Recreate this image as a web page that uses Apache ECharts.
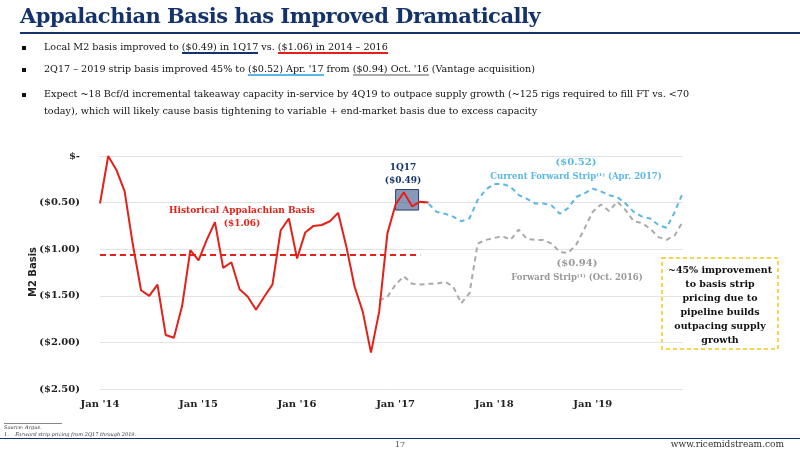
<!DOCTYPE html>
<html><head><meta charset="utf-8">
<script src="https://cdn.jsdelivr.net/npm/echarts@6/dist/echarts.min.js"></script>
<style>
body{margin:0;width:800px;height:450px;position:relative;background:#fff;font-family:"DejaVu Serif",serif;overflow:hidden}
#c{position:absolute;left:0;top:0;width:800px;height:450px}
.t{position:absolute;left:20px;top:3px;font-size:21px;font-weight:bold;color:#14336b;white-space:nowrap;letter-spacing:-0.5px}
.rule{position:absolute;left:20px;right:0;top:32px;height:2px;background:#14336b}
.b{position:absolute;left:22px;font-size:9.6px;color:#111;white-space:nowrap}
.b span.sq{display:inline-block;width:4px;height:4px;background:#111;margin-right:18px;vertical-align:middle}
.u1{border-bottom:2px solid #14336b}.u2{border-bottom:2px solid #e32119}.u3{border-bottom:2px solid #5bb8e6}.u4{border-bottom:2px solid #aaa}
.f{position:absolute;font-size:5px;font-style:italic;color:#333;left:4px}
</style></head><body>
<div id="c"></div>
<div class="t">Appalachian Basis has Improved Dramatically</div>
<div class="rule"></div>
<div class="b" style="top:41px"><span class="sq"></span>Local M2 basis improved to <span class="u1">($0.49) in 1Q17</span> vs. <span class="u2">($1.06) in 2014 – 2016</span></div>
<div class="b" style="top:63px"><span class="sq"></span>2Q17 – 2019 strip basis improved 45% to <span class="u3">($0.52) Apr. '17</span> from <span class="u4">($0.94) Oct. '16</span> (Vantage acquisition)</div>
<div class="b" style="top:85px;line-height:17px"><span class="sq"></span>Expect ~18 Bcf/d incremental takeaway capacity in-service by 4Q19 to outpace supply growth (~125 rigs required to fill FT vs. &lt;70<br><span style="margin-left:22px">today), which will likely cause basis tightening to variable + end-market basis due to excess capacity</span></div>
<div style="position:absolute;left:4px;top:423px;width:58px;border-top:1px solid #888"></div>
<div class="f" style="top:424px">Source: Argus.</div>
<div class="f" style="top:431px">1.&nbsp;&nbsp;&nbsp;&nbsp;Forward strip pricing from 2Q17 through 2019.</div>
<div style="position:absolute;left:0;right:0;top:438px;height:1px;background:#14336b"></div>
<div style="position:absolute;left:395px;top:440px;font-size:8px;color:#555">17</div>
<div style="position:absolute;right:16px;top:439px;font-size:9px;color:#333">www.ricemidstream.com</div>
<script>
const tickLabels = ["Jan '14","Jan '15","Jan '16","Jan '17","Jan '18","Jan '19"];
// monthly values, index 0 = Jan 2014
const historical = [-0.51,0,-0.15,-0.38,-0.95,-1.44,-1.50,-1.38,-1.92,-1.95,-1.61,-1.01,
 -1.12,-0.90,-0.71,-1.20,-1.14,-1.43,-1.51,-1.65,-1.51,-1.38,-0.80,-0.67,
 -1.10,-0.82,-0.75,-0.74,-0.70,-0.61,-0.97,-1.40,-1.67,-2.11,-1.67,-0.83,
 -0.52,-0.39,-0.54,-0.49,-0.50];
const currentStripStart = 39; // Apr 2017
const currentStrip = [-0.49,-0.51,-0.60,-0.62,-0.65,-0.70,-0.67,-0.47,-0.36,
 -0.30,-0.30,-0.33,-0.42,-0.46,-0.51,-0.51,-0.53,-0.62,-0.56,-0.44,-0.40,
 -0.35,-0.38,-0.42,-0.44,-0.51,-0.60,-0.65,-0.67,-0.74,-0.77,-0.60,-0.39];
const oldStripStart = 34; // Nov 2016
const oldStrip = [-1.55,-1.51,
 -1.38,-1.29,-1.37,-1.38,-1.37,-1.37,-1.35,-1.40,-1.58,-1.47,-0.94,-0.90,
 -0.88,-0.86,-0.90,-0.79,-0.89,-0.90,-0.90,-0.94,-1.03,-1.04,-0.95,-0.78,
 -0.60,-0.52,-0.59,-0.49,-0.58,-0.70,-0.72,-0.78,-0.87,-0.90,-0.85,-0.70];
const histAvg = -1.06;

const ch = echarts.init(document.getElementById('c'));
const fmtY = v => v === 0 ? '$-' : '($' + Math.abs(v).toFixed(2) + ')';
ch.setOption({
 animation:false,
 grid:{left:100,right:117,top:156,bottom:61},
 xAxis:{type:'value',min:0,max:71,interval:12,
  axisLine:{show:false},axisTick:{show:false},splitLine:{show:false},
  axisLabel:{formatter:v=>tickLabels[v/12]||'',fontFamily:'DejaVu Serif',fontWeight:'bold',fontSize:10,color:'#222',margin:10}},
 yAxis:{type:'value',min:-2.5,max:0,interval:0.5,
  axisLine:{show:false},axisTick:{show:false},
  splitLine:{lineStyle:{color:'#e3e3e3'}},
  axisLabel:{formatter:fmtY,fontFamily:'DejaVu Serif',fontWeight:'bold',fontSize:10,color:'#222',margin:20}},
 series:[
  {type:'line',data:oldStrip.map((v,i)=>[oldStripStart+i,v]),symbol:'none',
   lineStyle:{color:'#aaaaaa',width:2,type:[5,4]}},
  {type:'line',data:currentStrip.map((v,i)=>[currentStripStart+i,v]),symbol:'none',
   lineStyle:{color:'#5bb8e6',width:2,type:[5,4]}},
  {type:'line',data:historical.map((v,i)=>[i,v]),symbol:'none',z:5,
   lineStyle:{color:'#e32119',width:2},
   markLine:{symbol:'none',silent:true,label:{show:false},
    lineStyle:{color:'#e32119',width:2,type:[6,4]},
    data:[[{coord:[0,histAvg]},{coord:[39,histAvg]}]]},
   markArea:{silent:true,itemStyle:{color:'rgba(40,70,130,0.55)',borderColor:'#2d3f6b',borderWidth:1},
    data:[[{coord:[36,-0.36]},{coord:[38.8,-0.58]}]]}}
 ],
 graphic:[
  {type:'text',x:33,y:272,rotation:Math.PI/2,style:{text:'M2 Basis',align:'center',verticalAlign:'middle',fill:'#222',font:'bold 10px DejaVu Sans'}},
  {type:'text',x:242,y:204,style:{text:'Historical Appalachian Basis\n($1.06)',align:'center',fill:'#e32119',font:'bold 9px DejaVu Serif',lineHeight:13}},
  {type:'text',x:403,y:161,style:{text:'1Q17\n($0.49)',align:'center',fill:'#14336b',font:'bold 9px DejaVu Serif',lineHeight:13}},
  {type:'text',x:576,y:157,style:{text:'($0.52)',align:'center',fill:'#5bb8e6',font:'bold 10px DejaVu Serif'}},
  {type:'text',x:576,y:172,style:{text:'Current Forward Strip⁽¹⁾ (Apr. 2017)',align:'center',fill:'#5bb8e6',font:'bold 8.5px DejaVu Serif'}},
  {type:'text',x:577,y:258,style:{text:'($0.94)',align:'center',fill:'#999',font:'bold 10px DejaVu Serif'}},
  {type:'text',x:577,y:273,style:{text:'Forward Strip⁽¹⁾ (Oct. 2016)',align:'center',fill:'#999',font:'bold 8.5px DejaVu Serif'}},
  {type:'rect',shape:{x:662,y:258,width:116,height:91},style:{fill:'#fff',stroke:'#f5c518',lineWidth:1.5,lineDash:[4,3]}},
  {type:'text',x:720,y:264,style:{text:'~45% improvement\nto basis strip\npricing due to\npipeline builds\noutpacing supply\ngrowth',align:'center',fill:'#111',font:'bold 9.5px DejaVu Serif',lineHeight:14}}
 ]
});
</script></body></html>
